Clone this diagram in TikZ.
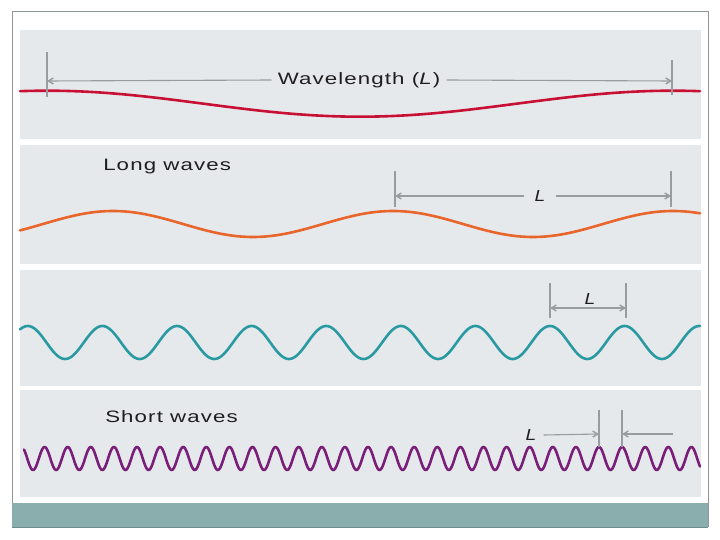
\documentclass[tikz,border=0pt]{standalone}
\usepackage{fontspec}
\setmainfont{Liberation Sans}
\newfontfamily\spaced[LetterSpace=5]{Liberation Sans}
\usetikzlibrary{arrows.meta}
\definecolor{panelgray}{HTML}{E6E9EC}
\definecolor{framegray}{HTML}{8E9696}
\definecolor{barteal}{HTML}{8AADAD}
\definecolor{bardark}{HTML}{6F8C8C}
\definecolor{dimgray}{HTML}{979CA0}
\definecolor{txtgray}{HTML}{1E1E1E}
\definecolor{wavered}{HTML}{C81034}
\definecolor{waveorange}{HTML}{E8652C}
\definecolor{waveteal}{HTML}{2A9AA2}
\definecolor{wavepurple}{HTML}{7A1F79}
\tikzset{
  wavebase/.style={line width=2.6pt, line join=round, line cap=round},
  dimline/.style={draw=dimgray, line width=1.1pt},
  dimarrow/.style={dimline, -{Straight Barb[length=5pt,width=6pt,line width=1.4pt]}},
  lbl/.style={text=txtgray, font=\spaced\fontsize{16.5}{18}\selectfont, inner sep=0pt, xscale=1.35},
  llbl/.style={text=txtgray, font=\spaced\fontsize{16}{18}\selectfont\itshape, inner sep=0pt, xscale=1.2},
}
\begin{document}
\begin{tikzpicture}[x=1pt,y=-1pt]
\useasboundingbox (0,0) rectangle (720,540);
\fill[white] (0,0) rectangle (720,540);
% frame
\draw[framegray, line width=1pt] (12,527) -- (12,12) -- (708,12) -- (708,527);
% panels
\fill[panelgray] (20,30) rectangle (701,139);
\fill[panelgray] (20,145) rectangle (701,264);
\fill[panelgray] (20,270) rectangle (701,386);
\fill[panelgray] (20,390) rectangle (701,497);
% bottom bar
\fill[barteal] (12,503) rectangle (708,527);
\draw[bardark, line width=1pt] (12,527) -- (708,527);

% ---------- panel 1: wavelength ----------
\draw[wavebase, wavered] plot[domain=20:700, samples=200] (\x, {103.7-13*cos((\x-47)/626*360)});
\coordinate (p1l) at (47,81);
\coordinate (p1r) at (672,81);
\draw[dimline] (47,52) -- (47,97);
\draw[dimline] (672,60) -- (672,95);
\node[lbl] (wl) at (359,80) {Wavelength (\textit{L})};
\draw[dimarrow] ([xshift=-6pt]wl.west) -- (p1l);
\draw[dimarrow] ([xshift=6pt]wl.east) -- (p1r);

% ---------- panel 2: long waves ----------
\node[lbl, anchor=west] (long) at (103,167) {Long waves};
\draw[wavebase, waveorange] plot[domain=20:700, samples=200] (\x, {224-13*cos((\x-393)/280*360)});
\coordinate (p2l) at (395,196);
\coordinate (p2r) at (671,196);
\draw[dimline] (395,171) -- (395,207);
\draw[dimline] (671,171) -- (671,207);
\node[llbl] (l2) at (540,196) {L};
\draw[dimarrow] ([xshift=-10pt]l2.west) -- (p2l);
\draw[dimarrow] ([xshift=10pt]l2.east) -- (p2r);

% ---------- panel 3 ----------
\draw[wavebase, waveteal] plot[domain=20:700, samples=500] (\x, {342.5-16.5*cos((\x-550)/74.6*360)});
\coordinate (p3l) at (550,308);
\coordinate (p3r) at (626,308);
\draw[dimline] (550,283) -- (550,318);
\draw[dimline] (626,283) -- (626,318);
\node[llbl] (l3) at (590,299) {L};
\draw[dimline, {Straight Barb[length=5pt,width=6pt,line width=1.4pt]}-{Straight Barb[length=5pt,width=6pt,line width=1.4pt]}] (p3l) -- (p3r);

% ---------- panel 4: short waves ----------
\node[lbl, anchor=west] (short) at (105,417) {Short waves};
\draw[wavebase, wavepurple] plot[domain=24:700, samples=900] (\x, {458.5-11.5*cos((\x-599)/23.1*360)});
\coordinate (p4l) at (599,434);
\coordinate (p4r) at (622,434);
\coordinate (p4e) at (673,434);
\draw[dimline] (599,410) -- (599,447);
\draw[dimline] (622,410) -- (622,447);
\node[llbl] (l4) at (531,435) {L};
\draw[dimarrow] ([xshift=7pt]l4.east) -- (p4l);
\draw[dimarrow] (p4e) -- (p4r);
\end{tikzpicture}
\end{document}
